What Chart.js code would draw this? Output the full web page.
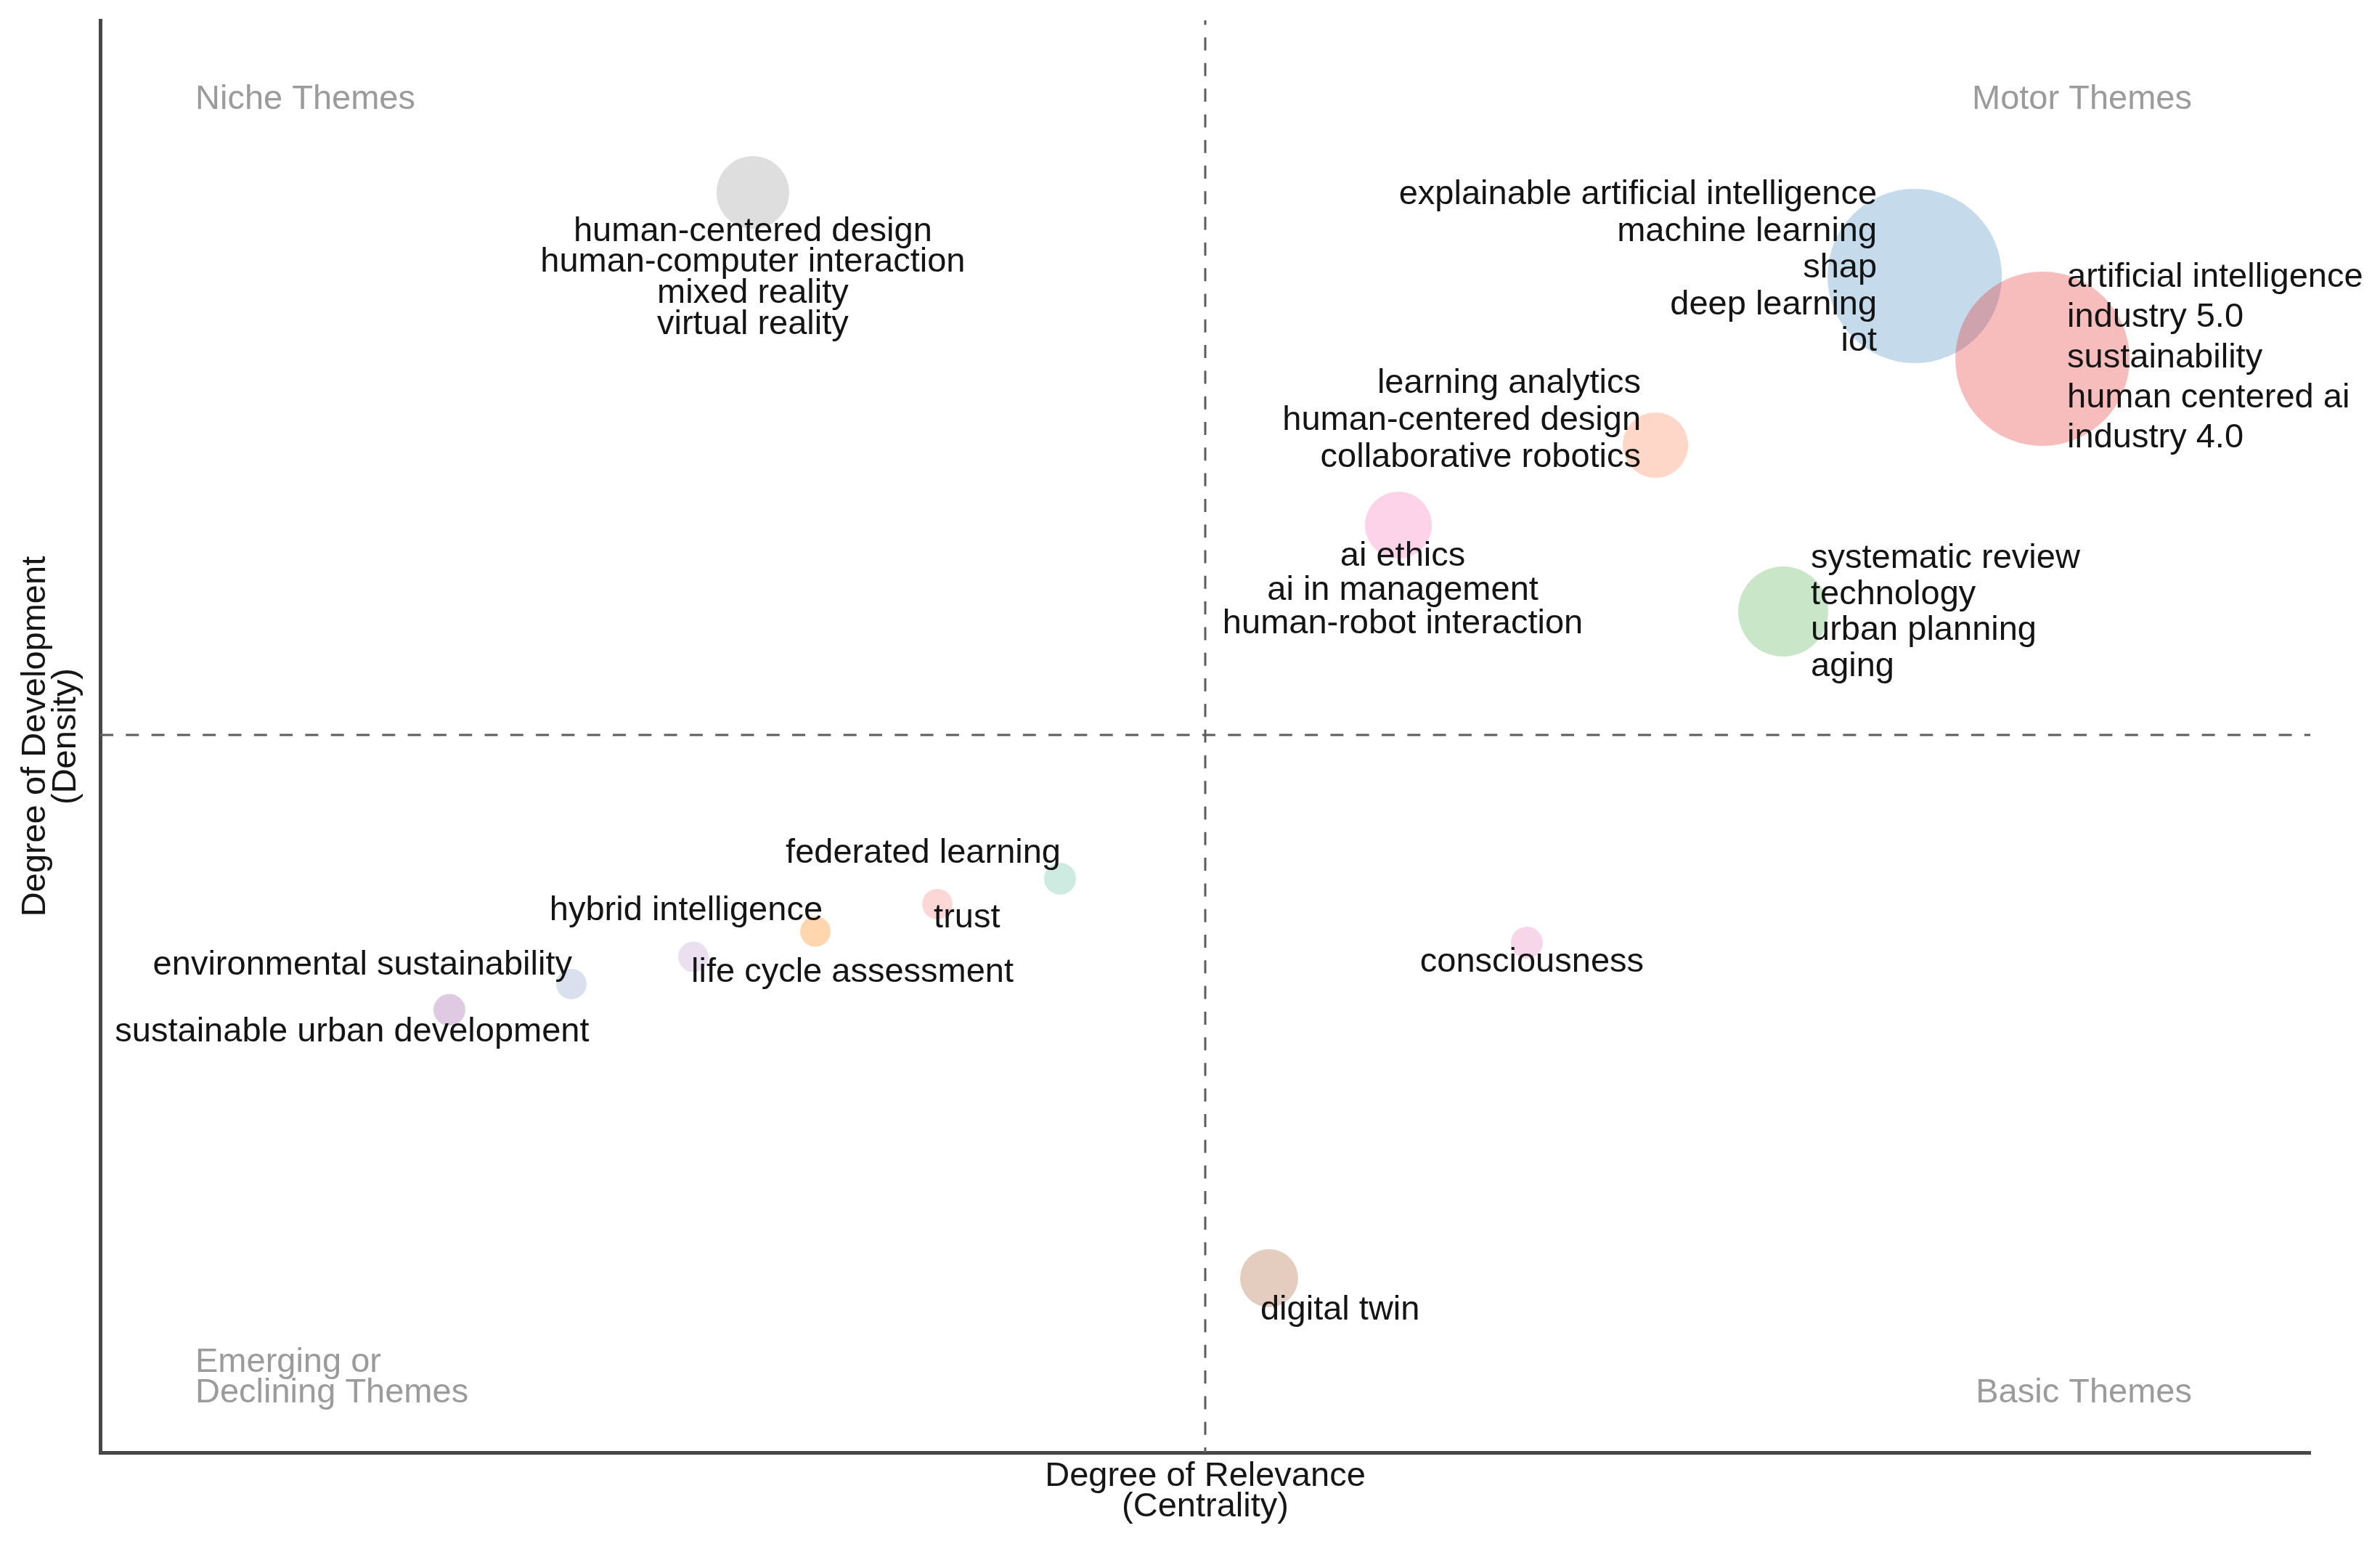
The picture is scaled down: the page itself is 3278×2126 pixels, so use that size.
<!DOCTYPE html>
<html>
<head>
<meta charset="utf-8">
<script src="https://cdn.jsdelivr.net/npm/chart.js@4.4.1/dist/chart.umd.min.js"></script>
<style>
  html, body { margin: 0; padding: 0; background: #ffffff; }
  #wrap { width: 3278px; height: 2126px; }
</style>
</head>
<body>
<div id="wrap"><canvas id="c" width="3278" height="2126"></canvas></div>
<script>
// ---------------- DATA ----------------
const clusterWords = [
  ['human-centered design', 'human-computer interaction', 'mixed reality', 'virtual reality'],
  ['explainable artificial intelligence', 'machine learning', 'shap', 'deep learning', 'iot'],
  ['artificial intelligence', 'industry 5.0', 'sustainability', 'human centered ai', 'industry 4.0'],
  ['learning analytics', 'human-centered design', 'collaborative robotics'],
  ['ai ethics', 'ai in management', 'human-robot interaction'],
  ['systematic review', 'technology', 'urban planning', 'aging'],
  ['federated learning'],
  ['trust'],
  ['hybrid intelligence'],
  ['life cycle assessment'],
  ['environmental sustainability'],
  ['sustainable urban development'],
  ['consciousness'],
  ['digital twin']
];
const centrality = [2.953, 8.210, 8.788, 7.037, 5.874, 7.615, 4.343, 3.788, 3.236, 2.684, 2.132, 1.580, 6.455, 5.289];
const density    = [8.798, 8.215, 7.637, 7.034, 6.476, 5.872, 4.006, 3.829, 3.638, 3.461, 3.271, 3.091, 3.560, 1.217];
const clusterSize = [50, 120, 120, 45, 46, 62, 22, 21, 21, 21, 21, 22, 22, 40];
const centralityRef = 5.0;
const densityRef = 5.01;
const xTitle = ['Degree of Relevance', '(Centrality)'];
const yTitle = ['Degree of Development', '(Density)'];
const quadNiche = ['Niche Themes'];
const quadMotor = ['Motor Themes'];
const quadEmerging = ['Emerging or', 'Declining Themes'];
const quadBasic = ['Basic Themes'];

// ---------------- STYLE / LAYOUT ----------------
const bubbleColors = [
  'rgba(153,153,153,0.32)',
  'rgba(55,126,184,0.29)',
  'rgba(228,26,28,0.29)',
  'rgba(252,141,98,0.35)',
  'rgba(247,129,191,0.35)',
  'rgba(77,175,74,0.30)',
  'rgba(102,194,165,0.32)',
  'rgba(251,154,153,0.40)',
  'rgba(255,127,0,0.32)',
  'rgba(202,178,214,0.40)',
  'rgba(141,160,203,0.32)',
  'rgba(152,78,163,0.30)',
  'rgba(231,138,195,0.35)',
  'rgba(166,86,40,0.30)'
];
// label placement relative to bubble centre (pixels): align, dx, baseline dy, line gap
const labelLayout = [
  {align: 'center', dx: 0,    dy: 66.5, gap: 42.8},
  {align: 'right',  dx: -52,  dy: -99,  gap: 50.6},
  {align: 'left',   dx: 34,   dy: -99,  gap: 55.3},
  {align: 'right',  dx: -20,  dy: -72,  gap: 51},
  {align: 'center', dx: 6,    dy: 56,   gap: 46.7},
  {align: 'left',   dx: 38,   dy: -60,  gap: 49.7},
  {align: 'right',  dx: 1,    dy: -22,  gap: 0},
  {align: 'left',   dx: -5,   dy: 32,   gap: 0},
  {align: 'right',  dx: 10,   dy: -16,  gap: 0},
  {align: 'left',   dx: -3,   dy: 35,   gap: 0},
  {align: 'right',  dx: 1,    dy: -13,  gap: 0},
  {align: 'center', dx: -134, dy: 44,   gap: 0},
  {align: 'center', dx: 7,    dy: 40,   gap: 0},
  {align: 'left',   dx: -12,  dy: 57,   gap: 0}
];
const FONT = '"Liberation Sans", Arial, Helvetica, sans-serif';
const FS = 47;

Chart.defaults.font.family = FONT;

const refLines = {
  id: 'refLines',
  beforeDatasetsDraw(chart) {
    const {ctx, chartArea, scales} = chart;
    const px = scales.x.getPixelForValue(centralityRef);
    const py = scales.y.getPixelForValue(densityRef);
    ctx.save();
    ctx.strokeStyle = '#5c5c5c';
    ctx.lineWidth = 3;
    ctx.setLineDash([18, 17.3]);
    ctx.lineDashOffset = 0;
    ctx.beginPath();
    ctx.moveTo(chartArea.left, py);
    ctx.lineTo(chartArea.right, py);
    ctx.stroke();
    ctx.lineDashOffset = 11;
    ctx.beginPath();
    ctx.moveTo(px, chartArea.bottom);
    ctx.lineTo(px, chartArea.top);
    ctx.stroke();
    ctx.restore();
  }
};

const textLayer = {
  id: 'textLayer',
  afterDatasetsDraw(chart) {
    const {ctx, chartArea} = chart;
    const pts = chart.getDatasetMeta(0).data;
    ctx.save();
    ctx.font = FS + 'px ' + FONT;
    ctx.textBaseline = 'alphabetic';
    // quadrant names
    ctx.fillStyle = '#9b9b9b';
    ctx.textAlign = 'left';
    ctx.fillText(quadNiche[0], chartArea.left + 131, chartArea.top + 122);
    quadEmerging.forEach((t, j) => ctx.fillText(t, chartArea.left + 131, chartArea.bottom - 111 + j * 42));
    ctx.textAlign = 'right';
    ctx.fillText(quadMotor[0], chartArea.right - 163, chartArea.top + 122);
    ctx.fillText(quadBasic[0], chartArea.right - 163, chartArea.bottom - 69);
    // cluster labels
    ctx.fillStyle = '#141414';
    clusterWords.forEach((words, i) => {
      const p = pts[i];
      const L = labelLayout[i];
      ctx.textAlign = L.align;
      words.forEach((w, j) => {
        ctx.fillText(w, p.x + L.dx, p.y + L.dy + j * L.gap);
      });
    });
    ctx.restore();
  }
};

new Chart(document.getElementById('c'), {
  type: 'bubble',
  data: {
    datasets: [{
      data: centrality.map((x, i) => ({x: x, y: density[i], r: clusterSize[i]})),
      backgroundColor: bubbleColors,
      borderWidth: 0,
      hoverRadius: 0,
      hoverBorderWidth: 0
    }]
  },
  options: {
    responsive: false,
    devicePixelRatio: 1,
    animation: false,
    events: [],
    layout: {autoPadding: false, padding: {top: 28, right: 96, bottom: 0, left: 0}},
    plugins: {legend: {display: false}, tooltip: {enabled: false}},
    scales: {
      x: {
        type: 'linear', min: 0, max: 10,
        ticks: {display: false},
        grid: {display: false, drawTicks: false, tickLength: 0},
        border: {display: true, color: '#474747', width: 5},
        title: {
          display: true, text: xTitle, color: '#161616',
          font: {size: FS, family: FONT, lineHeight: 0.9},
          padding: {top: 12, bottom: 29.4}
        }
      },
      y: {
        type: 'linear', min: 0, max: 10,
        ticks: {display: false},
        grid: {display: false, drawTicks: false, tickLength: 0},
        border: {display: true, color: '#474747', width: 5},
        title: {
          display: true, text: yTitle, color: '#161616',
          font: {size: FS, family: FONT, lineHeight: 0.9},
          padding: {top: 27.5, bottom: 25.9}
        }
      }
    }
  },
  plugins: [refLines, textLayer]
});
</script>
</body>
</html>
